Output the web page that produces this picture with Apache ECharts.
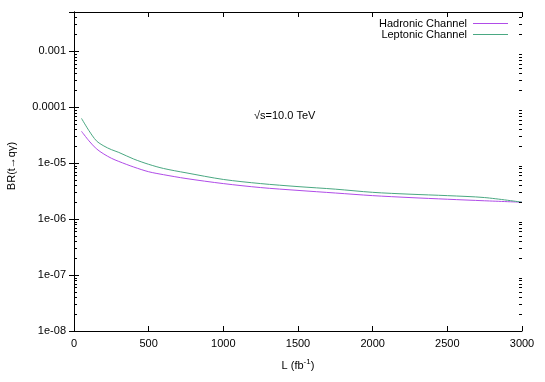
<!DOCTYPE html>
<html>
<head>
<meta charset="utf-8">
<script src="https://cdn.jsdelivr.net/npm/echarts@6/dist/echarts.min.js"></script>
<style>html,body{margin:0;padding:0;background:#fff}#c{width:545px;height:382px}</style>
</head>
<body>
<div id="c"></div>
<script>
const L = [50, 100, 150, 200, 250, 300, 400, 500, 600, 750, 1000, 1250, 1500, 1750, 2000, 2250, 2500, 2750, 3000];
const hadronic = [3.7e-5, 2.5e-5, 1.8e-5, 1.45e-5, 1.22e-5, 1.07e-5, 8.5e-6, 7.0e-6, 6.2e-6, 5.3e-6, 4.3e-6, 3.65e-6, 3.25e-6, 2.92e-6, 2.62e-6, 2.42e-6, 2.26e-6, 2.12e-6, 2.0e-6];
const leptonic = [6.3e-5, 3.8e-5, 2.5e-5, 2.02e-5, 1.74e-5, 1.55e-5, 1.18e-5, 9.5e-6, 8.0e-6, 6.7e-6, 5.1e-6, 4.3e-6, 3.8e-6, 3.42e-6, 3.0e-6, 2.78e-6, 2.62e-6, 2.42e-6, 2.0e-6];
const seriesNames = ['Hadronic Channel', 'Leptonic Channel'];
const xTickLabels = ['0', '500', '1000', '1500', '2000', '2500', '3000'];
const yTickLabels = ['1e-08', '1e-07', '1e-06', '1e-05', '0.0001', '0.001'];
const yDecades = [1e-8, 1e-7, 1e-6, 1e-5, 1e-4, 1e-3];
const yMinorMult = [2, 3, 4, 5, 6, 7, 8, 9];
const annotation = '\u221As=10.0 TeV';

const yMin = 1e-8, yMax = 5e-3, xMin = 0, xMax = 3000;
const minorTicks = [];
yDecades.forEach(d => yMinorMult.forEach(m => { const v = d * m; if (v < yMax * 0.999) minorTicks.push(v); }));

const FONT = 'Liberation Sans, Arial, sans-serif';
const COLORS = ['#b04ce8', '#4aa882'];
const chart = echarts.init(document.getElementById('c'), null, {renderer: 'canvas'});

function yFmt(v) {
  const e = Math.round(Math.log10(v));
  const idx = yDecades.findIndex(d => Math.abs(Math.log10(d) - e) < 1e-6);
  return idx >= 0 ? yTickLabels[idx] : '';
}
function xFmt(v) {
  const idx = Math.round(v / 500);
  return xTickLabels[idx] !== undefined ? xTickLabels[idx] : '';
}

const axisLine = {show: true, lineStyle: {color: '#000', width: 1}};
const tick = {show: true, inside: true, length: 5, lineStyle: {color: '#000', width: 1}};

chart.setOption({
  animation: false,
  backgroundColor: '#fff',
  textStyle: {fontFamily: FONT},
  grid: {left: 74, right: 23, top: 12, bottom: 51, containLabel: false},
  legend: {
    data: seriesNames.map(n => ({name: n, icon: 'rect'})), orient: 'vertical', right: 37, top: 18, align: 'right',
    padding: 0, itemWidth: 35, itemHeight: 1, itemGap: 0,
    textStyle: {fontFamily: FONT, fontSize: 11, color: '#000', lineHeight: 11, padding: [0, 1, 0, 0]}
  },
  xAxis: [
    {type: 'value', min: xMin, max: xMax, interval: 500, position: 'bottom',
     name: '{n|L (fb}{s|-1}{n|)}', nameLocation: 'middle', nameGap: 27,
     nameTextStyle: {rich: {n: {fontSize: 11, fontFamily: FONT, color: '#000'}, s: {fontSize: 8, fontFamily: FONT, color: '#000', verticalAlign: 'top', padding: [0, 0, 7, 0]}}},
     axisLine: axisLine, axisTick: tick, splitLine: {show: false},
     axisLabel: {formatter: xFmt, fontSize: 11, fontFamily: FONT, color: '#000', margin: 7}},
    {type: 'value', min: xMin, max: xMax, interval: 500, position: 'top',
     axisLine: axisLine, axisTick: tick, splitLine: {show: false}, axisLabel: {show: false}}
  ],
  yAxis: [
    {type: 'log', min: yMin, max: yMax, logBase: 10, position: 'left',
     axisLine: axisLine, axisTick: tick, splitLine: {show: false},
     axisLabel: {formatter: yFmt, fontSize: 11, fontFamily: FONT, color: '#000', margin: 8, showMaxLabel: false}},
    {type: 'log', min: yMin, max: yMax, logBase: 10, position: 'right',
     axisLine: axisLine, axisTick: tick, splitLine: {show: false}, axisLabel: {show: false}}
  ],
  series: [
    {name: seriesNames[0], type: 'line', data: L.map((x, i) => [x, hadronic[i]]), symbol: 'none', smooth: 0.3,
     lineStyle: {color: COLORS[0], width: 1}, itemStyle: {color: COLORS[0]}},
    {name: seriesNames[1], type: 'line', data: L.map((x, i) => [x, leptonic[i]]), symbol: 'none', smooth: 0.3,
     lineStyle: {color: COLORS[1], width: 1}, itemStyle: {color: COLORS[1]}}
  ]
});

// minor ticks and texts positioned through the chart's own scales
const xl = Math.round(chart.convertToPixel({xAxisIndex: 0}, xMin));
const xr = Math.round(chart.convertToPixel({xAxisIndex: 0}, xMax));
const g = [];
minorTicks.forEach(v => {
  const y = Math.round(chart.convertToPixel({yAxisIndex: 0}, v));
  g.push({type: 'rect', silent: true, z: 10, shape: {x: xl, y: y, width: 3, height: 1}, style: {fill: '#000'}});
  g.push({type: 'rect', silent: true, z: 10, shape: {x: xr - 3, y: y, width: 3, height: 1}, style: {fill: '#000'}});
});
g.push({type: 'text', left: 254, top: 110, style: {text: annotation, font: '11px ' + FONT, fill: '#000'}});
g.push({type: 'text', x: 12, y: 166, rotation: Math.PI / 2, style: {text: 'BR(t\u2192q\u03B3)', font: '11px ' + FONT, fill: '#000', align: 'center', verticalAlign: 'middle'}});
chart.setOption({graphic: g});
</script>
</body>
</html>
